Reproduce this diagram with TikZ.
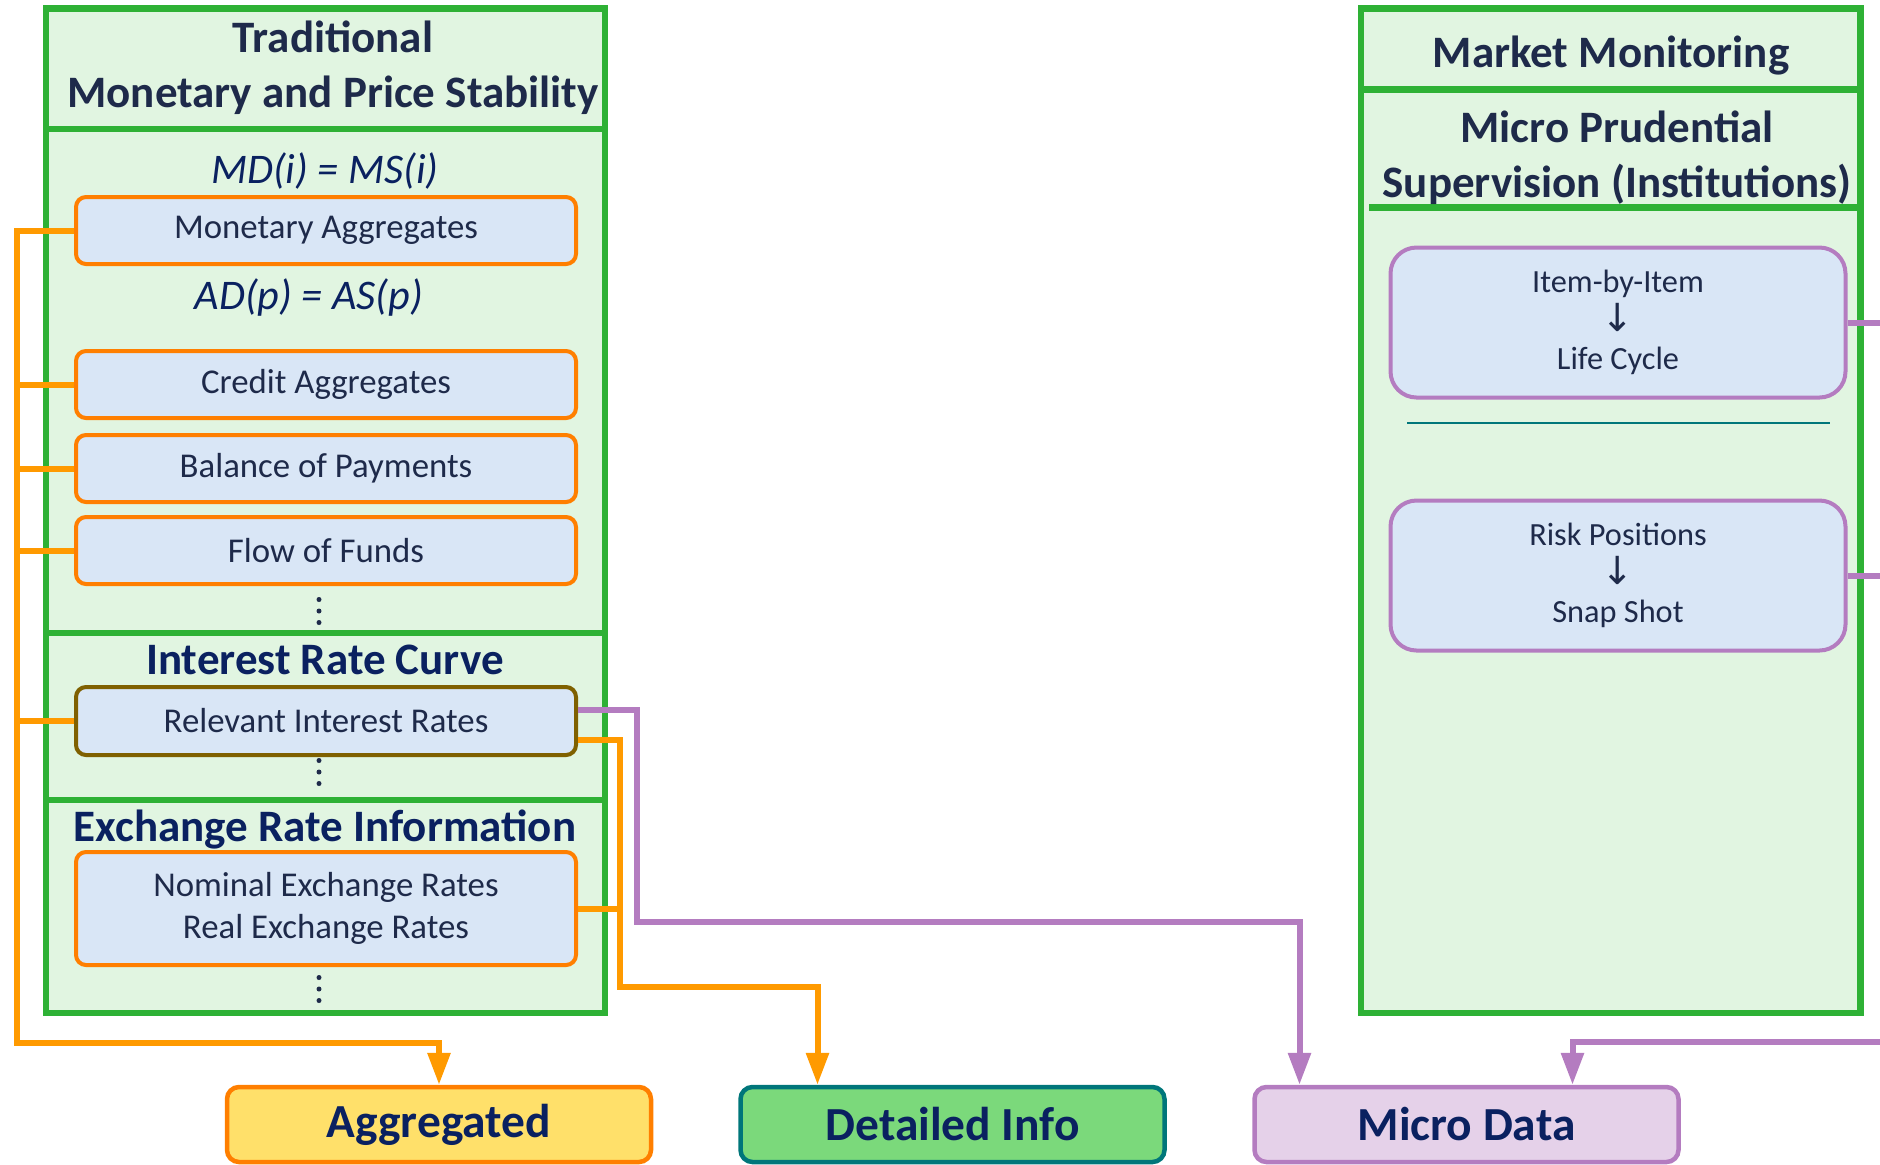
\documentclass[tikz,border=0pt]{standalone}
\usepackage{fontspec}
\setmainfont{Carlito}
\newfontfamily\arrowfont{DejaVu Sans}
\usetikzlibrary{arrows.meta, positioning}
\definecolor{frame}{HTML}{2EB135}
\definecolor{panelbg}{HTML}{E1F5E1}
\definecolor{boxbg}{HTML}{D9E6F6}
\definecolor{aggr}{HTML}{FF7F00}
\definecolor{wire}{HTML}{FF9A00}
\definecolor{olive}{HTML}{7F6000}
\definecolor{micro}{HTML}{B47CC0}
\definecolor{ink}{HTML}{1E2A4A}
\definecolor{navy}{HTML}{0A2160}
\definecolor{aggfill}{HTML}{FFE06A}
\definecolor{detfill}{HTML}{7BD97B}
\definecolor{detline}{HTML}{00767A}
\definecolor{microfill}{HTML}{E5D1E9}

% three stacked dots under a group of boxes
\newcommand{\moredots}[1]{\foreach \d in {-1.15,0,1.15}
  \fill[ink] ([yshift=\d mm]#1) circle (0.25mm);}
\newcommand{\thento}{{\arrowfont\fontsize{11}{11}\selectfont ↓}}

\begin{document}
\begin{tikzpicture}[x=0.1mm, y=-0.1mm, >={Triangle[length=3.2mm, width=2.2mm]},
    panel/.style={draw=frame, line width=0.65mm, fill=panelbg, inner sep=0pt},
    divider/.style={draw=frame, line width=0.65mm},
    head/.style={font=\bfseries\fontsize{12.8}{15.6}\selectfont, text=ink, align=center},
    sect/.style={font=\bfseries\fontsize{12.8}{14}\selectfont, text=navy},
    eq/.style={font=\itshape\fontsize{12}{14}\selectfont, text=navy},
    databox/.style={draw=aggr, line width=0.4mm, fill=boxbg, rounded corners=1mm,
      minimum width=50mm, minimum height=6.7mm, align=center, text=ink,
      font=\fontsize{9.9}{12}\selectfont},
    microbox/.style={draw=micro, line width=0.4mm, fill=boxbg, rounded corners=2.6mm,
      minimum width=45.5mm, minimum height=15mm, align=center, text=ink,
      font=\fontsize{9.2}{11}\selectfont},
    outbox/.style={line width=0.45mm, rounded corners=1.2mm, minimum width=42.4mm,
      minimum height=7.5mm, text=navy, font=\bfseries\fontsize{13.5}{15}\selectfont},
    aggline/.style={draw=wire, line width=0.6mm},
    microline/.style={draw=micro, line width=0.6mm}]

  \useasboundingbox (0,0) rectangle (1880,1164);

  % traditional panel
  \node[panel, minimum width=55.9mm, minimum height=100.45mm] (trad) at (325.5,510.75) {};
  \draw[divider] (46,129) -- (605,129);
  \draw[divider] (46,633) -- (605,633);
  \draw[divider] (46,800) -- (605,800);
  \node[head] (tradhead) at (333,68) {Traditional\\Monetary and Price Stability};

  \node[eq] (mdms) at (325,171) {MD(i) = MS(i)};
  \node[databox] (monagg) at (326,230.5) {Monetary Aggregates};
  \node[eq] (adas) at (309,297) {AD(p) = AS(p)};
  \node[databox] (credagg) at (326,384.5) {Credit Aggregates};
  \node[databox, below=1.3mm of credagg] (bop) {Balance of Payments};
  \node[databox, below=1.1mm of bop] (fof) {Flow of Funds};
  \coordinate (dots1) at (319,611);
  \moredots{dots1}

  \node[sect] (irc) at (325,660) {Interest Rate Curve};
  \node[databox, draw=olive, minimum height=6.8mm] (rir) at (326,721) {Relevant Interest Rates};
  \coordinate (dots2) at (319,772);
  \moredots{dots2}

  \node[sect] (eri) at (325,829) {Exchange Rate Information};
  \node[databox, minimum height=11.3mm] (fx) at (326,908.5)
    {Nominal Exchange Rates\\Real Exchange Rates};
  \coordinate (dots3) at (319,989);
  \moredots{dots3}

  % market monitoring panel
  \node[panel, minimum width=49.95mm, minimum height=100.45mm] (mkt) at (1610.75,510.75) {};
  \draw[divider] (1361,89.5) -- (1860.5,89.5);
  \draw[divider] (1369,207.5) -- (1860.5,207.5);
  \node[head] (mkthead) at (1611,56) {Market Monitoring};
  \node[head] (mpshead) at (1617,158) {Micro Prudential\\Supervision (Institutions)};

  \node[microbox] (item) at (1618,322.5) {Item-by-Item\\\thento\\Life Cycle};
  \draw[detline, line width=0.25mm] (1407,423) -- (1830,423);
  \node[microbox] (risk) at (1618,575.5) {Risk Positions\\\thento\\Snap Shot};

  % data levels
  \node[outbox, draw=aggr, fill=aggfill] (agg) at (439,1124.5) {Aggregated};
  \node[outbox, draw=detline, fill=detfill] (det) at (952.5,1124.5) {Detailed Info};
  \node[outbox, draw=micro, fill=microfill] (micdata) at (1466.5,1124.5) {Micro Data};

  % aggregated wiring
  \coordinate (aggbus) at (16.5,1043);
  \draw[aggline, ->] (monagg.west) -| (aggbus) -| (agg.north);
  \foreach \b in {credagg, bop, fof, rir}
    \draw[aggline] (\b.west) -- (\b.west -| aggbus);

  % detailed wiring
  \coordinate (detbus) at (619.5,987);
  \draw[aggline, ->] ([yshift=-1.9mm]rir.east) -| (detbus) -| ([xshift=-13.5mm]det.north);
  \draw[aggline] (fx.east) -- (fx.east -| detbus);

  % micro wiring
  \coordinate (microbus) at (637,922);
  \coordinate (offpage) at (1895,1042);
  \draw[microline, ->] ([yshift=1.1mm]rir.east) -| (microbus) -| ([xshift=-16.7mm]micdata.north);
  \draw[microline, ->] (offpage) -| ([xshift=10.6mm]micdata.north);
  \draw[microline] (item.east) -- (item.east -| offpage);
  \draw[microline] (risk.east) -- (risk.east -| offpage);
\end{tikzpicture}
\end{document}
